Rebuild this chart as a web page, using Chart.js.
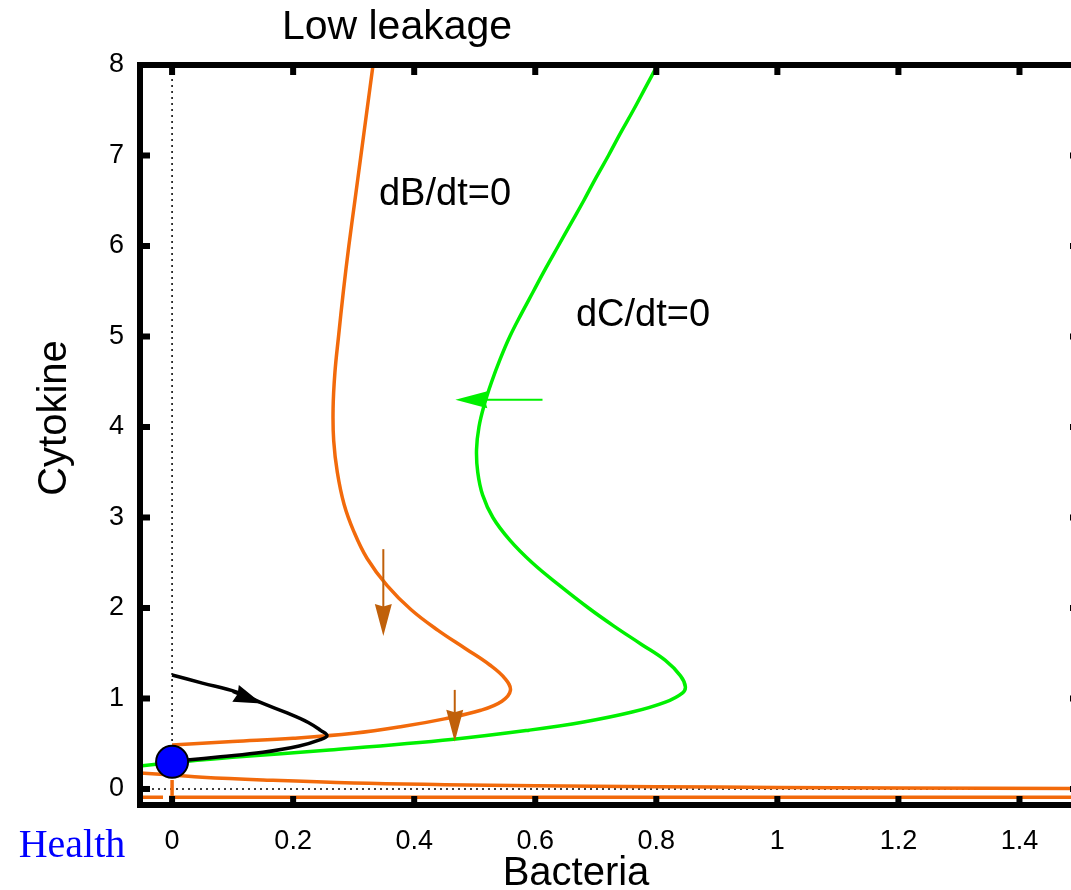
<!DOCTYPE html>
<html>
<head>
<meta charset="utf-8">
<script src="https://cdn.jsdelivr.net/npm/chart.js@4.4.1/dist/chart.umd.min.js"></script>
<style>
html, body { margin:0; padding:0; overflow:hidden; background:#fff; }
canvas { display:block; }
</style>
</head>
<body>
<canvas id="chart" width="1071" height="890"></canvas>
<script>
// axis ticks
const xTicks = [0, 0.2, 0.4, 0.6, 0.8, 1, 1.2, 1.4]
const yTicks = [0, 1, 2, 3, 4, 5, 6, 7, 8]

// dB/dt=0 nullcline branches
const dBUpper = [[0,0.487],[0.1,0.525],[0.2,0.56],[0.3,0.615],[0.38,0.69],[0.45,0.775],[0.51,0.87],[0.545,0.97],[0.559,1.09],[0.55,1.22],[0.525,1.37],[0.485,1.55],[0.44,1.75],[0.395,1.98],[0.355,2.25],[0.322,2.55],[0.3,2.85],[0.284,3.15],[0.273,3.5],[0.267,3.85],[0.266,4.2],[0.269,4.6],[0.275,5.0],[0.283,5.5],[0.292,6.0],[0.302,6.5],[0.312,7.0],[0.322,7.5],[0.332,8.0]]
const dBLower = [[-0.053,0.177],[0,0.155],[0.05,0.13],[0.15,0.1],[0.3,0.066],[0.45,0.048],[0.6,0.036],[0.8,0.025],[1.0,0.017],[1.2,0.011],[1.5,0.005]]
const dBFloor = [[-0.053,-0.09],[-0.015,-0.09],[-0.01,null],[-0.005,-0.09],[1.5,-0.09]]
const dBAxis = [[0,0.1],[0,-0.2]]

// dC/dt=0 nullcline
const dCCurve = [[-0.053,0.254],[0,0.29],[0.1,0.35],[0.26,0.43],[0.465,0.55],[0.59,0.65],[0.68,0.74],[0.76,0.85],[0.815,0.96],[0.843,1.06],[0.848,1.13],[0.84,1.25],[0.815,1.42],[0.775,1.6],[0.73,1.8],[0.688,2.0],[0.64,2.25],[0.595,2.5],[0.558,2.75],[0.53,3.0],[0.513,3.25],[0.505,3.5],[0.503,3.75],[0.507,4.0],[0.516,4.25],[0.528,4.5],[0.542,4.75],[0.558,5.0],[0.577,5.25],[0.597,5.5],[0.617,5.75],[0.638,6.0],[0.659,6.25],[0.68,6.5],[0.7,6.75],[0.721,7.0],[0.741,7.25],[0.762,7.5],[0.782,7.75],[0.802,8.0]]

// trajectory back to the healthy state
const trajectory = [[0,1.26],[0.05,1.17],[0.107,1.07],[0.15,0.945],[0.19,0.84],[0.225,0.735],[0.246,0.645],[0.256,0.59],[0.245,0.545],[0.21,0.475],[0.15,0.405],[0.08,0.355],[0.025,0.32]]
const healthPoint = [[0,0.3]]

// dotted zero lines
const zeroV = [[0,-0.2],[0,8]]
const zeroH = [[-0.053,0],[1.5,0]]

// direction arrows (tail -> tip)
const arrowTail = [[0.349,2.65],[0.467,1.095],[0.612,4.3],[0.10,1.07]]
const arrowTip = [[0.349,1.69],[0.467,0.523],[0.468,4.3],[0.148,0.945]]
const arrowColor = ['#c0600a','#c0600a','#00f000','#000000']

const orange = '#f26a0b'
const green = '#00f000'
const font = '"Liberation Sans", Arial, sans-serif'

const pts = arr => arr.map(p => ({ x: p[0], y: p[1] }))

function line(data, color, width, extra) {
    return Object.assign({
        data: pts(data),
        showLine: true,
        borderColor: color,
        backgroundColor: color,
        borderWidth: width,
        pointRadius: 0,
        tension: 0.4,
        fill: false,
        spanGaps: false
    }, extra || {})
}

const framePlugin = {
    id: 'frame',
    // the original plot frame runs a few pixels past the right edge of the picture
    afterLayout(chart) {
        const a = chart.chartArea
        const x = chart.scales.x
        a.right = 1080
        a.width = a.right - a.left
        x.right = a.right
        x.width = a.width
        x.configure()
    },
    afterDatasetsDraw(chart) {
        const { ctx, chartArea: a, scales: { x, y } } = chart
        ctx.save()
        // arrows
        arrowTail.forEach((t, i) => {
            const x0 = x.getPixelForValue(t[0]), y0 = y.getPixelForValue(t[1])
            const x1 = x.getPixelForValue(arrowTip[i][0]), y1 = y.getPixelForValue(arrowTip[i][1])
            const ang = Math.atan2(y1 - y0, x1 - x0)
            const len = i === 3 ? 28 : 32
            const half = i === 3 ? 9 : 8.5
            const c = Math.cos(ang), s = Math.sin(ang)
            ctx.strokeStyle = arrowColor[i]
            ctx.fillStyle = arrowColor[i]
            ctx.lineWidth = 2
            ctx.beginPath()
            ctx.moveTo(x0, y0)
            ctx.lineTo(x1 - c * len * 0.9, y1 - s * len * 0.9)
            ctx.stroke()
            ctx.beginPath()
            ctx.moveTo(x1, y1)
            ctx.lineTo(x1 - c * len - s * half, y1 - s * len + c * half)
            ctx.lineTo(x1 - c * len * 0.92, y1 - s * len * 0.92)
            ctx.lineTo(x1 - c * len + s * half, y1 - s * len - c * half)
            ctx.closePath()
            ctx.fill()
        })
        // inside ticks
        ctx.fillStyle = '#000'
        xTicks.forEach(v => {
            const px = x.getPixelForValue(v)
            ctx.fillRect(px - 3, a.bottom - 9, 6, 9)
            ctx.fillRect(px - 3, a.top, 6, 10)
        })
        yTicks.forEach(v => {
            const py = y.getPixelForValue(v)
            ctx.fillRect(a.left, py - 3, 10, 6)
            ctx.fillRect(a.right - 10, py - 3, 10, 6)
        })
        ctx.strokeStyle = '#000'
        ctx.lineWidth = 6
        ctx.strokeRect(a.left, a.top, a.right - a.left, a.bottom - a.top)
        ctx.restore()
    },
    afterDraw(chart) {
        const ctx = chart.ctx
        ctx.save()
        ctx.fillStyle = '#000'
        ctx.textAlign = 'center'
        ctx.textBaseline = 'alphabetic'
        ctx.font = '41px ' + font
        ctx.fillText('Low leakage', 397, 39)
        ctx.font = '38px ' + font
        ctx.fillText('dB/dt=0', 445, 205)
        ctx.fillText('dC/dt=0', 643, 326)
        ctx.font = '40px ' + font
        ctx.fillText('Bacteria', 576, 885)
        ctx.save()
        ctx.translate(66, 418)
        ctx.rotate(-Math.PI / 2)
        ctx.fillText('Cytokine', 0, 0)
        ctx.restore()
        ctx.fillStyle = '#0000ff'
        ctx.font = '40px "Liberation Serif", "Times New Roman", serif'
        ctx.fillText('Health', 72, 857)
        ctx.restore()
    }
}

const ctx = document.getElementById('chart')

new Chart(ctx, {
    type: 'scatter',
    data: {
        datasets: [
            {
                data: pts(healthPoint),
                pointRadius: 16,
                pointBackgroundColor: '#0000ff',
                pointBorderColor: '#000',
                pointBorderWidth: 2,
                showLine: false
            },
            line(dBAxis, orange, 3.5, { tension: 0 }),
            line(trajectory, '#000', 3.5),
            line(dCCurve, green, 3.5),
            line(dBUpper, orange, 3.5),
            line(dBLower, orange, 3.5),
            line(dBFloor, orange, 3.5, { tension: 0 }),
            line(zeroV, '#000', 1.5, { tension: 0, borderDash: [2, 4] }),
            line(zeroH, '#000', 1.5, { tension: 0, borderDash: [2, 4] })
        ]
    },
    options: {
        responsive: false,
        animation: false,
        events: [],
        layout: { padding: { top: 65, right: 0, left: 0, bottom: 0 } },
        plugins: {
            legend: { display: false },
            tooltip: { enabled: false },
            title: { display: false }
        },
        scales: {
            x: {
                type: 'linear',
                min: -0.053,
                max: 1.5,
                grid: { display: false, drawTicks: false },
                border: { display: false },
                afterBuildTicks: s => { s.ticks = xTicks.map(v => ({ value: v })) },
                afterFit: s => { s.height = 85; s.paddingLeft = 0; s.paddingRight = 0 },
                ticks: {
                    padding: 20,
                    color: '#000',
                    font: { family: font, size: 27 },
                    maxRotation: 0,
                    autoSkip: false,
                    callback: v => String(v)
                }
            },
            y: {
                type: 'linear',
                min: -0.177,
                max: 8,
                grid: { display: false, drawTicks: false },
                border: { display: false },
                afterBuildTicks: s => { s.ticks = yTicks.map(v => ({ value: v })) },
                afterFit: s => { s.width = 140; s.paddingTop = 0; s.paddingBottom = 0 },
                ticks: {
                    padding: 16,
                    color: '#000',
                    font: { family: font, size: 27 },
                    autoSkip: false,
                    callback: v => String(v)
                }
            }
        }
    },
    plugins: [framePlugin]
})
</script>
</body>
</html>
